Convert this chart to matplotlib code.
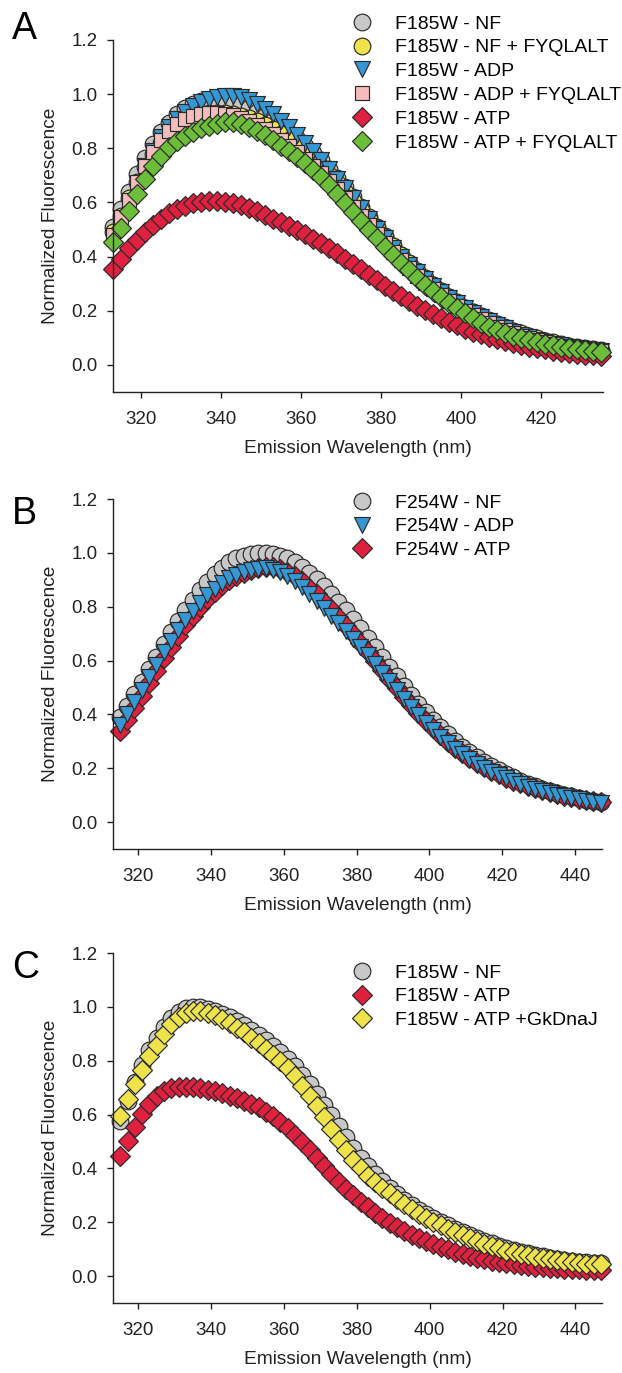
import matplotlib
matplotlib.use('Agg')
import matplotlib.pyplot as plt
from matplotlib.ticker import FormatStrFormatter
import numpy as np

plt.rcParams['font.family'] = ['Liberation Sans', 'DejaVu Sans']

# emission wavelengths (nm)
wl_a = np.arange(313, 436, 2)
wl_bc = np.arange(315, 448, 2)

# panel A - F185W
a_nf = [.51, .575, .64, .705, .765, .815, .86, .895, .925, .948,
        .963, .973, .978, .98, .978, .972, .962, .95, .935, .918,
        .9, .88, .858, .835, .81, .783, .755, .724, .692, .658,
        .622, .585, .548, .511, .475, .44, .407, .376, .347, .32,
        .295, .272, .251, .231, .212, .195, .179, .164, .15, .137,
        .125, .114, .104, .095, .087, .08, .074, .068, .063, .059,
        .055, .052]
a_nf_pep = [.49, .55, .615, .675, .73, .78, .82, .855, .88, .90,
            .915, .925, .93, .932, .932, .928, .921, .912, .90, .886,
            .87, .852, .832, .81, .786, .76, .732, .703, .672, .64,
            .607, .573, .539, .505, .471, .438, .406, .376, .347, .32,
            .295, .272, .25, .23, .212, .195, .179, .165, .151, .139,
            .127, .117, .107, .098, .09, .083, .077, .071, .066, .062,
            .058, .055]
a_adp = [.47, .53, .60, .67, .735, .79, .84, .88, .91, .935,
         .955, .97, .982, .99, .995, .995, .99, .978, .962, .945,
         .925, .902, .877, .85, .82, .79, .757, .723, .688, .652,
         .615, .578, .54, .503, .467, .432, .40, .37, .342, .316,
         .292, .27, .249, .229, .21, .193, .177, .162, .148, .135,
         .123, .112, .102, .093, .085, .078, .072, .067, .062, .058,
         .054, .051]
a_adp_pep = [.48, .545, .61, .675, .735, .785, .83, .865, .89, .908,
             .92, .927, .93, .93, .928, .922, .913, .90, .887, .87,
             .852, .832, .81, .787, .762, .736, .708, .679, .648, .616,
             .583, .55, .516, .482, .449, .417, .386, .357, .329, .303,
             .279, .257, .236, .217, .199, .183, .168, .154, .141, .129,
             .118, .108, .099, .091, .084, .077, .071, .066, .062, .058,
             .054, .051]
a_atp = [.355, .39, .43, .46, .49, .515, .54, .56, .575, .588,
         .597, .603, .605, .605, .602, .597, .59, .58, .568, .555,
         .54, .527, .513, .498, .483, .466, .45, .432, .413, .393,
         .373, .353, .333, .313, .293, .273, .254, .236, .219, .203,
         .188, .173, .159, .146, .134, .123, .113, .104, .095, .087,
         .08, .073, .067, .062, .057, .052, .048, .044, .041, .038,
         .035, .032]
a_atp_pep = [.455, .505, .57, .632, .687, .735, .772, .803, .828, .847,
             .862, .874, .884, .891, .896, .898, .89, .878, .864, .848,
             .83, .81, .79, .768, .745, .72, .695, .665, .63, .597,
             .563, .53, .498, .467, .437, .407, .378, .35, .322, .297,
             .273, .25, .23, .21, .19, .172, .156, .141, .128, .117,
             .107, .099, .091, .084, .078, .072, .067, .062, .058, .055,
             .052, .049]

# panel B - F254W
b_nf = [.39, .43, .475, .52, .567, .615, .66, .705, .748, .788,
        .826, .861, .892, .92, .945, .965, .98, .99, .997, 1.0,
        1.0, .997, .99, .98, .966, .948, .927, .903, .877, .849,
        .819, .787, .754, .72, .685, .649, .613, .577, .541, .506,
        .472, .439, .407, .38, .352, .326, .302, .28, .26, .241,
        .224, .208, .193, .179, .166, .154, .143, .133, .124, .116,
        .108, .101, .095, .089, .083, .078, .073]
b_adp = [.36, .40, .445, .49, .537, .584, .63, .673, .713, .75,
         .784, .815, .843, .867, .888, .905, .918, .928, .936, .941,
         .942, .938, .928, .913, .894, .872, .848, .822, .795, .767,
         .74, .71, .68, .65, .619, .587, .555, .523, .49, .458,
         .427, .397, .368, .341, .316, .293, .271, .251, .233, .216,
         .201, .187, .174, .162, .151, .141, .132, .124, .116, .109,
         .102, .096, .09, .085, .08, .075, .071]
b_atp = [.34, .38, .425, .47, .515, .562, .608, .652, .693, .731,
         .767, .80, .83, .856, .879, .898, .914, .927, .937, .944,
         .948, .947, .941, .93, .914, .894, .871, .846, .819, .79,
         .76, .729, .697, .664, .631, .598, .564, .531, .498, .466,
         .435, .405, .376, .348, .322, .298, .276, .256, .237, .22,
         .204, .19, .177, .165, .154, .144, .134, .126, .118, .111,
         .104, .098, .092, .087, .082, .077, .073]

# panel C - F185W with GkDnaJ
c_nf = [.575, .65, .72, .785, .84, .885, .925, .958, .982, .995,
        1.0, .998, .993, .985, .975, .962, .948, .932, .915, .896,
        .876, .855, .832, .807, .779, .748, .713, .676, .637, .597,
        .556, .515, .476, .44, .408, .38, .353, .328, .305, .284,
        .265, .247, .231, .216, .202, .189, .176, .164, .153, .142,
        .132, .122, .113, .105, .097, .09, .084, .079, .074, .069,
        .065, .061, .057, .054, .051, .049, .047]
c_atp = [.446, .503, .553, .602, .638, .668, .686, .698, .704, .704,
         .701, .697, .692, .686, .679, .67, .661, .651, .64, .627,
         .611, .593, .572, .55, .525, .498, .47, .44, .41, .38,
         .35, .325, .30, .275, .255, .235, .216, .199, .183, .168,
         .154, .141, .129, .118, .108, .099, .09, .082, .075, .068,
         .062, .057, .052, .048, .044, .041, .038, .035, .033, .031,
         .029, .027, .026, .025, .024, .023, .022]
c_atp_dnaj = [.594, .656, .712, .767, .816, .859, .90, .937, .963, .978,
              .984, .983, .977, .968, .955, .94, .923, .905, .886, .866,
              .845, .823, .80, .773, .742, .707, .669, .63, .59, .548,
              .507, .468, .432, .40, .373, .349, .327, .307, .287, .267,
              .248, .23, .214, .20, .188, .175, .163, .152, .141, .131,
              .121, .112, .103, .095, .088, .082, .077, .072, .068, .063,
              .059, .055, .052, .049, .046, .045, .044]

gray, yellow, blue = '#c8c8c8', '#eee34a', '#3597d3'
pink, red, green = '#f5bcbc', '#e0203f', '#6cbd3a'
edge = '#2a2a2a'

fig = plt.figure(figsize=(6.22, 13.73), dpi=100)
W, H = 622, 1373


def px_axes(left, top, right, bottom):
    return fig.add_axes([left / W, 1 - bottom / H, (right - left) / W, (bottom - top) / H])


def style(ax, xlim, xticks):
    ax.set_xlim(*xlim)
    ax.set_ylim(-0.1, 1.2)
    ax.set_xticks(xticks)
    ax.set_yticks(np.arange(0, 1.21, 0.2))
    ax.yaxis.set_major_formatter(FormatStrFormatter('%.1f'))
    for s in ['top', 'right']:
        ax.spines[s].set_visible(False)
    for s in ['left', 'bottom']:
        ax.spines[s].set_linewidth(1.0)
        ax.spines[s].set_color('#222222')
    ax.tick_params(axis='both', direction='out', length=4.5, width=1.0,
                   labelsize=13.5, colors='#222222')
    ax.tick_params(axis='x', pad=9)
    ax.tick_params(axis='y', pad=6.5)
    ax.set_xlabel('Emission Wavelength (nm)', fontsize=13.8, labelpad=9, color='#222222')
    ax.set_ylabel('Normalized Fluorescence', fontsize=13.8, labelpad=9, color='#222222')


def series(ax, x, y, marker, ms, color, label):
    ax.plot(x, y, linestyle='none', marker=marker, ms=ms, mfc=color, mec=edge,
            mew=0.85, label=label, clip_on=False)


def legend(ax, top_px, order=None):
    h, l = ax.get_legend_handles_labels()
    if order:
        h = [h[i] for i in order]
        l = [l[i] for i in order]
    ax.legend(h, l, loc='upper left', bbox_to_anchor=(352 / W, 1 - top_px / H),
              bbox_transform=fig.transFigure, frameon=False, borderpad=0,
              borderaxespad=0, handlelength=1.0, handletextpad=1.2,
              labelspacing=0.32, fontsize=14, numpoints=1)


# A
ax = px_axes(113, 40, 603, 392)
series(ax, wl_a, a_nf, 'o', 12, gray, 'F185W - NF')
series(ax, wl_a, a_nf_pep, 'o', 12, yellow, 'F185W - NF + FYQLALT')
series(ax, wl_a, a_adp, 'v', 12, blue, 'F185W - ADP')
series(ax, wl_a, a_adp_pep, 's', 10.5, pink, 'F185W - ADP + FYQLALT')
series(ax, wl_a, a_atp, 'D', 10, red, 'F185W - ATP')
series(ax, wl_a, a_atp_pep, 'D', 10, green, 'F185W - ATP + FYQLALT')
style(ax, (313, 435.5), [320, 340, 360, 380, 400, 420])
legend(ax, 15)

# B
ax = px_axes(113, 499, 602, 849)
series(ax, wl_bc, b_nf, 'o', 12, gray, 'F254W - NF')
series(ax, wl_bc, b_atp, 'D', 10, red, 'F254W - ATP')
series(ax, wl_bc, b_adp, 'v', 12, blue, 'F254W - ADP')
style(ax, (313.1, 447.4), [320, 340, 360, 380, 400, 420, 440])
legend(ax, 494, order=[0, 2, 1])

# C
ax = px_axes(113, 953, 602, 1303)
series(ax, wl_bc, c_nf, 'o', 12, gray, 'F185W - NF')
series(ax, wl_bc, c_atp, 'D', 10, red, 'F185W - ATP')
series(ax, wl_bc, c_atp_dnaj, 'D', 10, yellow, 'F185W - ATP +GkDnaJ')
style(ax, (313.0, 447.3), [320, 340, 360, 380, 400, 420, 440])
legend(ax, 964)

for letter, top in [('A', 11), ('B', 496), ('C', 950)]:
    fig.text(12 / W, 1 - top / H, letter, fontsize=27, va='top', ha='left')

fig.savefig('out.png', dpi=100)
